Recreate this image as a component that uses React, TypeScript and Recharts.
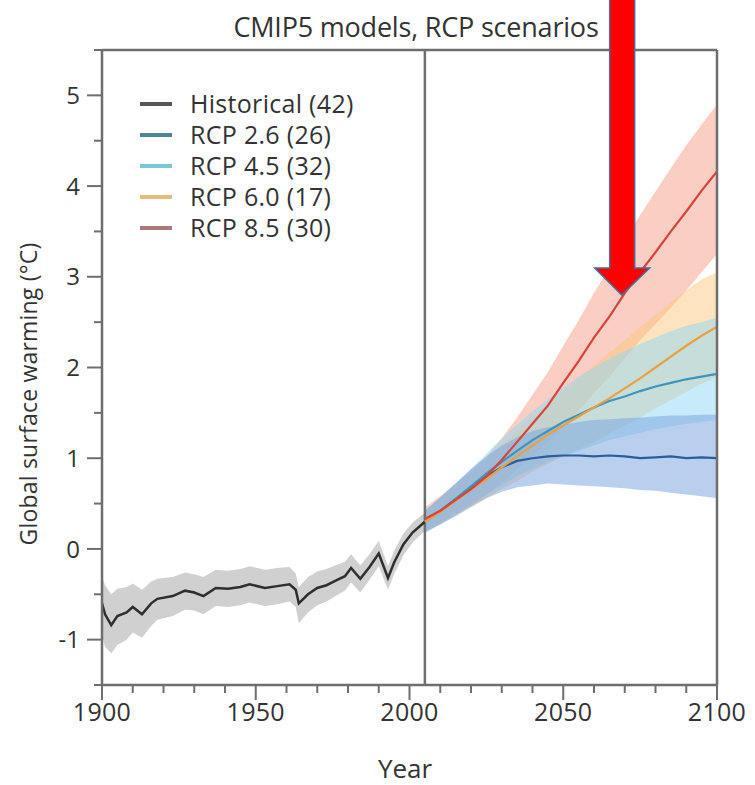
import React from 'react';
import {
  ComposedChart,
  Line,
  Area,
  XAxis,
  YAxis,
  ReferenceLine,
  ReferenceDot,
} from 'recharts';

// historical run (multi-model mean and spread)
const histYears = [1900, 1901, 1903, 1905, 1908, 1910, 1913, 1916, 1918, 1923, 1927, 1930, 1933, 1937, 1941, 1945, 1948, 1953, 1957, 1961, 1963, 1964, 1967, 1970, 1973, 1976, 1979, 1981, 1984, 1987, 1990, 1993, 1995, 1998, 2001, 2005];
const histMean = [-0.6, -0.72, -0.84, -0.74, -0.7, -0.64, -0.72, -0.6, -0.55, -0.52, -0.46, -0.48, -0.52, -0.43, -0.44, -0.42, -0.39, -0.43, -0.41, -0.39, -0.45, -0.6, -0.5, -0.43, -0.4, -0.35, -0.3, -0.21, -0.33, -0.2, -0.05, -0.32, -0.15, 0.05, 0.18, 0.3];
const histLow = [-0.95, -1.08, -1.15, -1.06, -1.0, -0.92, -0.98, -0.85, -0.78, -0.74, -0.67, -0.68, -0.72, -0.63, -0.64, -0.62, -0.59, -0.63, -0.61, -0.58, -0.64, -0.82, -0.7, -0.62, -0.58, -0.52, -0.46, -0.37, -0.48, -0.34, -0.19, -0.45, -0.28, -0.07, 0.07, 0.2];
const histHigh = [-0.3, -0.4, -0.5, -0.44, -0.42, -0.38, -0.45, -0.36, -0.33, -0.31, -0.26, -0.28, -0.31, -0.23, -0.24, -0.22, -0.19, -0.23, -0.21, -0.2, -0.27, -0.42, -0.31, -0.25, -0.22, -0.18, -0.14, -0.06, -0.18, -0.06, 0.09, -0.19, -0.02, 0.17, 0.29, 0.4];

// scenario runs
const futYears = [2005, 2010, 2015, 2020, 2025, 2030, 2035, 2040, 2045, 2050, 2055, 2060, 2065, 2070, 2075, 2080, 2085, 2090, 2095, 2100];

const rcp26Mean = [0.3, 0.42, 0.55, 0.68, 0.8, 0.9, 0.97, 1.0, 1.02, 1.03, 1.03, 1.02, 1.03, 1.02, 1.0, 1.01, 1.02, 1.0, 1.01, 1.0];
const rcp26Low = [0.18, 0.27, 0.36, 0.46, 0.56, 0.63, 0.68, 0.7, 0.72, 0.71, 0.7, 0.69, 0.68, 0.67, 0.65, 0.64, 0.62, 0.6, 0.58, 0.56];
const rcp26High = [0.42, 0.57, 0.72, 0.88, 1.02, 1.14, 1.23, 1.3, 1.34, 1.37, 1.4, 1.42, 1.43, 1.44, 1.45, 1.46, 1.47, 1.47, 1.48, 1.48];

const rcp45Mean = [0.3, 0.42, 0.55, 0.69, 0.83, 0.96, 1.08, 1.2, 1.3, 1.4, 1.48, 1.56, 1.63, 1.68, 1.74, 1.79, 1.83, 1.87, 1.9, 1.93];
const rcp45Low = [0.18, 0.28, 0.38, 0.5, 0.6, 0.7, 0.8, 0.88, 0.96, 1.02, 1.08, 1.14, 1.2, 1.24, 1.28, 1.32, 1.35, 1.38, 1.4, 1.42];
const rcp45High = [0.42, 0.56, 0.72, 0.88, 1.05, 1.22, 1.37, 1.52, 1.65, 1.78, 1.9, 2.0, 2.1, 2.18, 2.26, 2.33, 2.4, 2.46, 2.5, 2.55];

const rcp60Mean = [0.3, 0.41, 0.53, 0.65, 0.77, 0.9, 1.02, 1.14, 1.26, 1.36, 1.46, 1.56, 1.66, 1.77, 1.88, 2.0, 2.12, 2.24, 2.35, 2.45];
const rcp60Low = [0.18, 0.27, 0.37, 0.47, 0.56, 0.66, 0.75, 0.85, 0.94, 1.02, 1.1, 1.18, 1.27, 1.36, 1.45, 1.55, 1.64, 1.73, 1.82, 1.9];
const rcp60High = [0.42, 0.56, 0.7, 0.84, 0.98, 1.14, 1.3, 1.45, 1.6, 1.74, 1.88, 2.02, 2.16, 2.3, 2.45, 2.58, 2.72, 2.85, 2.97, 3.05];

const rcp85Mean = [0.33, 0.42, 0.54, 0.66, 0.8, 0.98, 1.18, 1.38, 1.58, 1.83, 2.07, 2.33, 2.56, 2.82, 3.05, 3.27, 3.5, 3.72, 3.95, 4.16];
const rcp85Low = [0.2, 0.28, 0.38, 0.48, 0.6, 0.73, 0.88, 1.02, 1.17, 1.34, 1.52, 1.72, 1.9, 2.1, 2.3, 2.48, 2.66, 2.85, 3.05, 3.25];
const rcp85High = [0.46, 0.58, 0.72, 0.86, 1.02, 1.22, 1.45, 1.7, 1.95, 2.24, 2.52, 2.82, 3.1, 3.4, 3.68, 3.94, 4.2, 4.45, 4.68, 4.9];

const yTicks = [-1.5, -1, -0.5, 0, 0.5, 1, 1.5, 2, 2.5, 3, 3.5, 4, 4.5, 5, 5.5];
const xTicks = [1900, 1910, 1920, 1930, 1940, 1950, 1960, 1970, 1980, 1990, 2000, 2010, 2020, 2030, 2040, 2050, 2060, 2070, 2080, 2090, 2100];

const legendNames = ['Historical (42)', 'RCP 2.6 (26)', 'RCP 4.5 (32)', 'RCP 6.0 (17)', 'RCP 8.5 (30)'];
const legendColors = ['#555555', '#4f8596', '#7cc7d6', '#e2be7a', '#a8787c'];

const FONT = '"Open Sans", "DejaVu Sans", sans-serif';
const TEXT = '#333333';
const AXIS = '#6e6e6e';

// merge everything into one table keyed by year
const rowMap = new Map<number, any>();
const row = (yr: number) => {
  if (!rowMap.has(yr)) rowMap.set(yr, { year: yr });
  return rowMap.get(yr);
};
histYears.forEach((yr, i) => {
  const r = row(yr);
  r.hist = histMean[i];
  r.histBand = [histLow[i], histHigh[i]];
});
futYears.forEach((yr, i) => {
  const r = row(yr);
  r.rcp26 = rcp26Mean[i];
  r.rcp26Band = [rcp26Low[i], rcp26High[i]];
  r.rcp45 = rcp45Mean[i];
  r.rcp45Band = [rcp45Low[i], rcp45High[i]];
  r.rcp60 = rcp60Mean[i];
  r.rcp60Band = [rcp60Low[i], rcp60High[i]];
  r.rcp85 = rcp85Mean[i];
  r.rcp85Band = [rcp85Low[i], rcp85High[i]];
});
const data = Array.from(rowMap.values()).sort((a, b) => a.year - b.year);

const LeftTick = ({ x, y, payload }: any) => {
  const major = Number.isInteger(payload.value);
  const len = major ? 15 : 8;
  return (
    <g>
      <line x1={x - len} y1={y} x2={x} y2={y} stroke={AXIS} strokeWidth={2} />
      {major && (
        <text x={x - len - 7} y={y} dy="0.36em" textAnchor="end" fontSize={24} fill={TEXT} fontFamily={FONT}>
          {payload.value}
        </text>
      )}
    </g>
  );
};

const RightTick = ({ x, y, payload }: any) => {
  const major = Number.isInteger(payload.value);
  const len = major ? 15 : 8;
  return <line x1={x} y1={y} x2={x + len} y2={y} stroke={AXIS} strokeWidth={2} />;
};

const BottomTick = ({ x, y, payload }: any) => {
  const major = payload.value % 50 === 0;
  const len = major ? 15 : 8;
  return (
    <g>
      <line x1={x} y1={y} x2={x} y2={y + len} stroke={AXIS} strokeWidth={2} />
      {major && (
        <text x={x} y={y + 27} dy="0.36em" textAnchor="middle" fontSize={25} fill={TEXT} fontFamily={FONT} letterSpacing={0.3}>
          {payload.value}
        </text>
      )}
    </g>
  );
};

const DownArrow = ({ cx, cy }: any) => (
  <path
    d={`M ${cx} ${cy} L ${cx - 27} ${cy - 27} L ${cx - 12} ${cy - 27} L ${cx - 12} ${cy - 320} L ${cx + 13} ${cy - 320} L ${cx + 13} ${cy - 27} L ${cx + 28} ${cy - 27} Z`}
    fill="#ff0000"
    stroke="#41719c"
    strokeWidth={1.5}
  />
);

export default function App() {
  return (
    <div style={{ position: 'absolute', left: 0, top: 0, width: 755, height: 785, background: '#fff', fontFamily: FONT }}>
      <div style={{ position: 'absolute', left: 0, width: 832, top: 8, textAlign: 'center', fontSize: 27, color: TEXT, letterSpacing: -0.2 }}>
        CMIP5 models, RCP scenarios
      </div>
      <div
        style={{
          position: 'absolute',
          left: 28,
          top: 394,
          transform: 'translate(-50%, -50%) rotate(-90deg)',
          whiteSpace: 'nowrap',
          fontSize: 23,
          color: TEXT,
          letterSpacing: 0.2,
        }}
      >
        Global surface warming (°C)
      </div>
      <div style={{ position: 'absolute', left: 405, top: 768, transform: 'translate(-50%, -50%)', fontSize: 26, color: TEXT }}>
        Year
      </div>

      <ComposedChart width={755} height={785} data={data} margin={{ top: 50, right: 18, bottom: 40, left: 42 }}>
        <XAxis
          dataKey="year"
          type="number"
          domain={[1900, 2100]}
          ticks={xTicks}
          interval={0}
          height={60}
          tickSize={0}
          tickMargin={0}
          tickLine={false}
          axisLine={{ stroke: AXIS, strokeWidth: 2.5 }}
          tick={<BottomTick />}
          allowDataOverflow
        />
        <YAxis
          type="number"
          domain={[-1.5, 5.5]}
          ticks={yTicks}
          interval={0}
          width={60}
          tickSize={0}
          tickMargin={0}
          tickLine={false}
          axisLine={{ stroke: AXIS, strokeWidth: 2.5 }}
          tick={<LeftTick />}
          allowDataOverflow
        />
        <YAxis
          yAxisId="r"
          orientation="right"
          type="number"
          domain={[-1.5, 5.5]}
          ticks={yTicks}
          interval={0}
          width={20}
          tickSize={0}
          tickMargin={0}
          tickLine={false}
          axisLine={{ stroke: AXIS, strokeWidth: 2.5 }}
          tick={<RightTick />}
        />
        <ReferenceLine y={5.5} stroke={AXIS} strokeWidth={2.5} />

        <Area dataKey="histBand" type="linear" stroke="none" fill="#bcbcbc" fillOpacity={0.7} isAnimationActive={false} />
        <Area dataKey="rcp85Band" type="linear" stroke="none" fill="#f5a58f" fillOpacity={0.55} isAnimationActive={false} />
        <Area dataKey="rcp60Band" type="linear" stroke="none" fill="#fcc77e" fillOpacity={0.5} isAnimationActive={false} />
        <Area dataKey="rcp45Band" type="linear" stroke="none" fill="#8fd8f5" fillOpacity={0.5} isAnimationActive={false} />
        <Area dataKey="rcp26Band" type="linear" stroke="none" fill="#7fa8e0" fillOpacity={0.55} isAnimationActive={false} />

        <ReferenceLine x={2005} stroke={AXIS} strokeWidth={2.5} />

        <Line dataKey="hist" type="linear" stroke="#2e2e2e" strokeWidth={2.5} dot={false} isAnimationActive={false} />
        <Line dataKey="rcp26" type="linear" stroke="#2b5c9e" strokeWidth={2.2} dot={false} isAnimationActive={false} />
        <Line dataKey="rcp45" type="linear" stroke="#3f94bc" strokeWidth={2.2} dot={false} isAnimationActive={false} />
        <Line dataKey="rcp60" type="linear" stroke="#e9a044" strokeWidth={2.2} dot={false} isAnimationActive={false} />
        <Line dataKey="rcp85" type="linear" stroke="#d6443a" strokeWidth={2.2} dot={false} isAnimationActive={false} />

        <ReferenceDot x={2069} y={2.8} r={0} shape={<DownArrow />} ifOverflow="visible" />
      </ComposedChart>

      <div style={{ position: 'absolute', left: 140, top: 88, fontSize: 25, color: TEXT, letterSpacing: 0.3 }}>
        {legendNames.map((name, i) => (
          <div key={name} style={{ display: 'flex', alignItems: 'center', height: 31, lineHeight: '31px' }}>
            <span style={{ display: 'inline-block', width: 32, height: 4, background: legendColors[i], marginRight: 18 }} />
            <span>{name}</span>
          </div>
        ))}
      </div>
    </div>
  );
}
